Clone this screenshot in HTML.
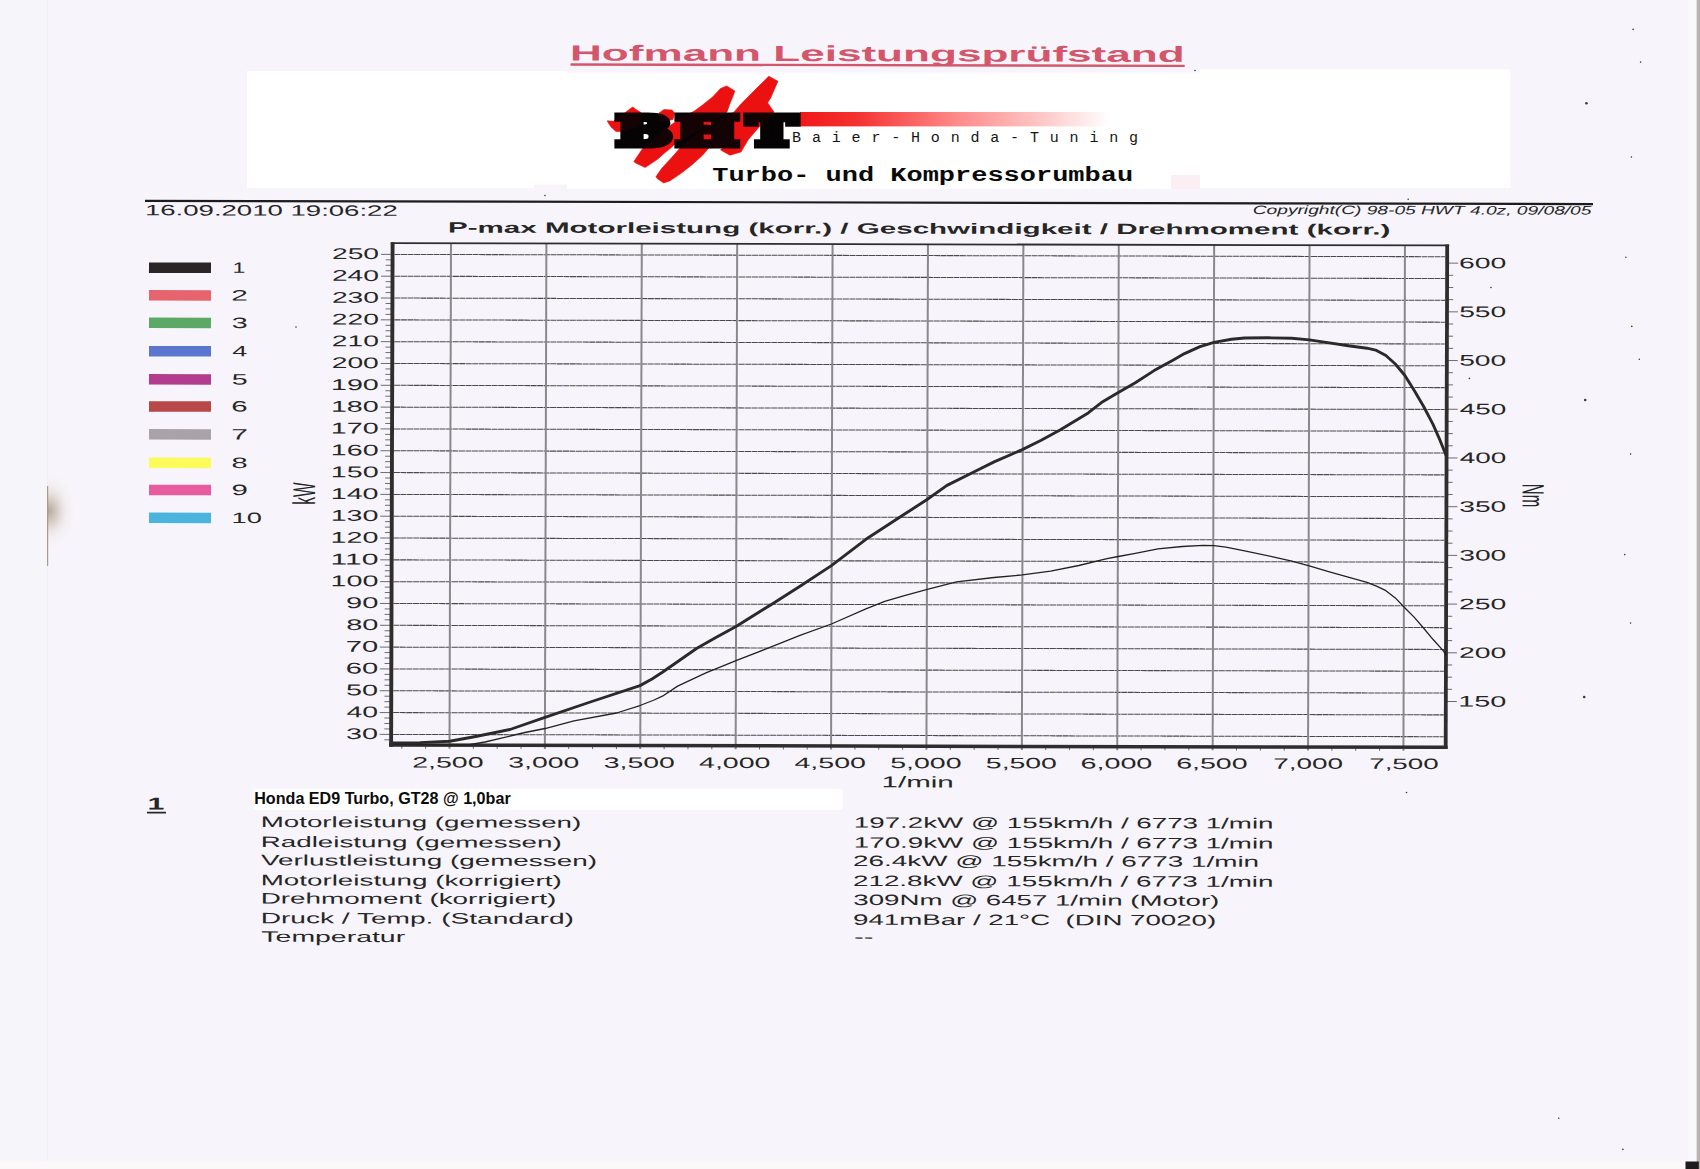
<!DOCTYPE html>
<html lang="de">
<head>
<meta charset="utf-8">
<title>Hofmann Leistungsprüfstand</title>
<style>
html,body{margin:0;padding:0;background:#f7f5fb;}
body{width:1700px;height:1169px;overflow:hidden;}
svg text{white-space:pre;}
</style>
</head>
<body>
<svg width="1700" height="1169" viewBox="0 0 1700 1169" style="display:block">
<rect x="0" y="0" width="1700" height="1169" fill="#f7f5fb"/>
<defs><radialGradient id="sm" cx="0.5" cy="0.5" r="0.5"><stop offset="0" stop-color="#7a5a3c" stop-opacity="0.5"/><stop offset="0.3" stop-color="#a08464" stop-opacity="0.36"/><stop offset="0.65" stop-color="#d0bca8" stop-opacity="0.14"/><stop offset="1" stop-color="#e8dcd0" stop-opacity="0"/></radialGradient></defs>
<ellipse cx="49" cy="511" rx="27" ry="38" fill="url(#sm)"/>
<rect x="0" y="0" width="47.6" height="1169" fill="#f6f5fa"/>
<rect x="47.1" y="0" width="0.9" height="1169" fill="#efeef4"/>
<rect x="47" y="486" width="1.2" height="80" fill="#8c7860" opacity="0.7"/>
<rect x="1688" y="0" width="9" height="1169" fill="#f9f8fc"/>
<rect x="0" y="1160.5" width="1700" height="8.5" fill="#faf8f8"/>
<rect x="1697" y="0" width="3" height="1169" fill="#b6b2b2"/>
<rect x="1696.2" y="0" width="0.8" height="1169" fill="#dedadc"/>
<rect x="1685.5" y="1161.5" width="13.3" height="7.5" fill="#1c1c1c"/>
<g fill="#3a3a3a"><circle cx="1633.1" cy="29.4" r="0.8"/><circle cx="1640.6" cy="62.1" r="0.8"/><circle cx="1586.4" cy="103.2" r="1.3"/><circle cx="1631.4" cy="157" r="0.8"/><circle cx="1408.2" cy="199.3" r="0.8"/><circle cx="1625.9" cy="257.2" r="0.8"/><circle cx="1491" cy="287.5" r="0.8"/><circle cx="1631.8" cy="326.4" r="0.8"/><circle cx="1639.3" cy="359.3" r="0.8"/><circle cx="1469.4" cy="378.4" r="0.8"/><circle cx="1585.2" cy="400" r="1.3"/><circle cx="1630.6" cy="454.1" r="0.8"/><circle cx="1624.7" cy="554.6" r="0.8"/><circle cx="1630.6" cy="623" r="0.8"/><circle cx="1584.2" cy="697" r="1.3"/><circle cx="1622.9" cy="1149.4" r="0.8"/><circle cx="1558.8" cy="1118.2" r="0.8"/><circle cx="1406.5" cy="792.5" r="0.8"/><circle cx="1195" cy="70.5" r="0.8"/><circle cx="1197" cy="180.5" r="0.8"/><circle cx="296" cy="327" r="0.8"/><circle cx="545" cy="195.5" r="0.8"/></g>
<rect x="247" y="71" width="320" height="117" fill="#ffffff"/>
<rect x="567" y="73.5" width="633" height="115.5" fill="#ffffff"/>
<rect x="567" y="72.3" width="633" height="1.2" fill="#fbfafd"/>
<rect x="1200" y="69.5" width="310.3" height="118.5" fill="#ffffff"/>
<rect x="1171" y="175" width="29" height="14" fill="#fbeff3"/>
<rect x="534" y="184.5" width="33" height="3.5" fill="#f6f4f8"/>
<rect x="253.5" y="789" width="589" height="21" fill="#ffffff"/>
<g transform="matrix(1 0.00220 -0.00300 1 0.7290 -0.8646)">
<text transform="translate(569.48 60.1) scale(2.0229 1)" font-family='"Liberation Sans", sans-serif' font-size="21.8" font-weight="bold" fill="#d4566a">Hofmann Leistungsprüfstand</text>
<rect x="570.06" y="62.91" width="614.1" height="2.4" fill="#d4566a"/>
<rect x="144.87" y="200.35" width="1448" height="2.2" fill="#1c1c1c"/>
<text transform="translate(144.85 215.84) scale(1.8414 1)" font-family='"Liberation Sans", sans-serif' font-size="14.97" fill="#262626">16.09.2010 19:06:22</text>
<text transform="translate(1252.66 212.01) scale(1.5709 1)" font-family='"Liberation Sans", sans-serif' font-size="12.21" font-style="italic" fill="#262626">Copyright(C) 98-05 HWT 4.0z, 09/08/05</text>
<text transform="translate(447.97 232.47) scale(1.9931 1)" font-family='"Liberation Sans", sans-serif' font-size="14.83" font-weight="bold" fill="#262626">P-max Motorleistung (korr.) / Geschwindigkeit / Drehmoment (korr.)</text>
<rect x="149.06" y="262.94" width="62" height="10.5" fill="#2a2627"/>
<text transform="translate(232.56 273.15) scale(1.5443 1)" font-family='"Liberation Sans", sans-serif' font-size="14.97" fill="#262626">1</text>
<rect x="149.14" y="290.54" width="62" height="10.5" fill="#e6646e"/>
<text transform="translate(231.48 300.75) scale(1.9964 1)" font-family='"Liberation Sans", sans-serif' font-size="14.97" fill="#262626">2</text>
<rect x="149.22" y="318.14" width="62" height="10.5" fill="#5ca866"/>
<text transform="translate(231.98 328.35) scale(1.9124 1)" font-family='"Liberation Sans", sans-serif' font-size="14.97" fill="#262626">3</text>
<rect x="149.31" y="346.44" width="62" height="10.5" fill="#5c76d0"/>
<text transform="translate(232.53 356.65) scale(1.7988 1)" font-family='"Liberation Sans", sans-serif' font-size="14.97" fill="#262626">4</text>
<rect x="149.39" y="374.64" width="62" height="10.5" fill="#b23c8e"/>
<text transform="translate(232.08 384.85) scale(1.9124 1)" font-family='"Liberation Sans", sans-serif' font-size="14.97" fill="#262626">5</text>
<rect x="149.47" y="401.74" width="62" height="10.5" fill="#b84848"/>
<text transform="translate(231.84 411.95) scale(1.9641 1)" font-family='"Liberation Sans", sans-serif' font-size="14.97" fill="#262626">6</text>
<rect x="149.56" y="429.54" width="62" height="10.5" fill="#a9a2a6"/>
<text transform="translate(231.89 439.75) scale(1.9964 1)" font-family='"Liberation Sans", sans-serif' font-size="14.97" fill="#262626">7</text>
<rect x="149.64" y="458.14" width="62" height="10.5" fill="#fbfb5c"/>
<text transform="translate(232.25 468.35) scale(1.9327 1)" font-family='"Liberation Sans", sans-serif' font-size="14.97" fill="#262626">8</text>
<rect x="149.73" y="485.24" width="62" height="10.5" fill="#e75c9e"/>
<text transform="translate(232.16 495.45) scale(1.9641 1)" font-family='"Liberation Sans", sans-serif' font-size="14.97" fill="#262626">9</text>
<rect x="149.81" y="513.04" width="62" height="10.5" fill="#4ab4dc"/>
<text transform="translate(232.39 523.25) scale(1.8213 1)" font-family='"Liberation Sans", sans-serif' font-size="14.97" fill="#262626">10</text>
<g stroke="#4a4a4a" stroke-width="1.05" stroke-dasharray="6 0.5" fill="none"><line x1="394.6" y1="734.4" x2="1445.2" y2="734.4"/><line x1="394.6" y1="712.58" x2="1445.2" y2="712.58"/><line x1="394.6" y1="690.76" x2="1445.2" y2="690.76"/><line x1="394.6" y1="668.94" x2="1445.2" y2="668.94"/><line x1="394.6" y1="647.12" x2="1445.2" y2="647.12"/><line x1="394.6" y1="625.31" x2="1445.2" y2="625.31"/><line x1="394.6" y1="603.49" x2="1445.2" y2="603.49"/><line x1="394.6" y1="581.67" x2="1445.2" y2="581.67"/><line x1="394.6" y1="559.85" x2="1445.2" y2="559.85"/><line x1="394.6" y1="538.03" x2="1445.2" y2="538.03"/><line x1="394.6" y1="516.22" x2="1445.2" y2="516.22"/><line x1="394.6" y1="494.4" x2="1445.2" y2="494.4"/><line x1="394.6" y1="472.58" x2="1445.2" y2="472.58"/><line x1="394.6" y1="450.76" x2="1445.2" y2="450.76"/><line x1="394.6" y1="428.94" x2="1445.2" y2="428.94"/><line x1="394.6" y1="407.13" x2="1445.2" y2="407.13"/><line x1="394.6" y1="385.31" x2="1445.2" y2="385.31"/><line x1="394.6" y1="363.49" x2="1445.2" y2="363.49"/><line x1="394.6" y1="341.67" x2="1445.2" y2="341.67"/><line x1="394.6" y1="319.85" x2="1445.2" y2="319.85"/><line x1="394.6" y1="298.04" x2="1445.2" y2="298.04"/><line x1="394.6" y1="276.22" x2="1445.2" y2="276.22"/><line x1="394.6" y1="254.4" x2="1445.2" y2="254.4"/></g>
<g stroke="#8a888c" stroke-width="2" fill="none"><line x1="451" y1="243.15" x2="451" y2="748.55"/><line x1="546.39" y1="243.15" x2="546.39" y2="748.55"/><line x1="641.79" y1="243.15" x2="641.79" y2="748.55"/><line x1="737.18" y1="243.15" x2="737.18" y2="748.55"/><line x1="832.58" y1="243.15" x2="832.58" y2="748.55"/><line x1="927.97" y1="243.15" x2="927.97" y2="748.55"/><line x1="1023.37" y1="243.15" x2="1023.37" y2="748.55"/><line x1="1118.76" y1="243.15" x2="1118.76" y2="748.55"/><line x1="1214.16" y1="243.15" x2="1214.16" y2="748.55"/><line x1="1309.55" y1="243.15" x2="1309.55" y2="748.55"/><line x1="1404.95" y1="243.15" x2="1404.95" y2="748.55"/></g>
<g stroke="#5c5c5c" stroke-width="0.9" fill="none"><line x1="385.8" y1="739.85" x2="392.6" y2="739.85"/><line x1="381.1" y1="734.4" x2="392.6" y2="734.4"/><line x1="385.8" y1="728.94" x2="392.6" y2="728.94"/><line x1="385.8" y1="723.49" x2="392.6" y2="723.49"/><line x1="385.8" y1="718.03" x2="392.6" y2="718.03"/><line x1="381.1" y1="712.58" x2="392.6" y2="712.58"/><line x1="385.8" y1="707.12" x2="392.6" y2="707.12"/><line x1="385.8" y1="701.67" x2="392.6" y2="701.67"/><line x1="385.8" y1="696.21" x2="392.6" y2="696.21"/><line x1="381.1" y1="690.76" x2="392.6" y2="690.76"/><line x1="385.8" y1="685.31" x2="392.6" y2="685.31"/><line x1="385.8" y1="679.85" x2="392.6" y2="679.85"/><line x1="385.8" y1="674.4" x2="392.6" y2="674.4"/><line x1="381.1" y1="668.94" x2="392.6" y2="668.94"/><line x1="385.8" y1="663.49" x2="392.6" y2="663.49"/><line x1="385.8" y1="658.03" x2="392.6" y2="658.03"/><line x1="385.8" y1="652.58" x2="392.6" y2="652.58"/><line x1="381.1" y1="647.12" x2="392.6" y2="647.12"/><line x1="385.8" y1="641.67" x2="392.6" y2="641.67"/><line x1="385.8" y1="636.22" x2="392.6" y2="636.22"/><line x1="385.8" y1="630.76" x2="392.6" y2="630.76"/><line x1="381.1" y1="625.31" x2="392.6" y2="625.31"/><line x1="385.8" y1="619.85" x2="392.6" y2="619.85"/><line x1="385.8" y1="614.4" x2="392.6" y2="614.4"/><line x1="385.8" y1="608.94" x2="392.6" y2="608.94"/><line x1="381.1" y1="603.49" x2="392.6" y2="603.49"/><line x1="385.8" y1="598.03" x2="392.6" y2="598.03"/><line x1="385.8" y1="592.58" x2="392.6" y2="592.58"/><line x1="385.8" y1="587.12" x2="392.6" y2="587.12"/><line x1="381.1" y1="581.67" x2="392.6" y2="581.67"/><line x1="385.8" y1="576.22" x2="392.6" y2="576.22"/><line x1="385.8" y1="570.76" x2="392.6" y2="570.76"/><line x1="385.8" y1="565.31" x2="392.6" y2="565.31"/><line x1="381.1" y1="559.85" x2="392.6" y2="559.85"/><line x1="385.8" y1="554.4" x2="392.6" y2="554.4"/><line x1="385.8" y1="548.94" x2="392.6" y2="548.94"/><line x1="385.8" y1="543.49" x2="392.6" y2="543.49"/><line x1="381.1" y1="538.03" x2="392.6" y2="538.03"/><line x1="385.8" y1="532.58" x2="392.6" y2="532.58"/><line x1="385.8" y1="527.12" x2="392.6" y2="527.12"/><line x1="385.8" y1="521.67" x2="392.6" y2="521.67"/><line x1="381.1" y1="516.22" x2="392.6" y2="516.22"/><line x1="385.8" y1="510.76" x2="392.6" y2="510.76"/><line x1="385.8" y1="505.31" x2="392.6" y2="505.31"/><line x1="385.8" y1="499.85" x2="392.6" y2="499.85"/><line x1="381.1" y1="494.4" x2="392.6" y2="494.4"/><line x1="385.8" y1="488.94" x2="392.6" y2="488.94"/><line x1="385.8" y1="483.49" x2="392.6" y2="483.49"/><line x1="385.8" y1="478.03" x2="392.6" y2="478.03"/><line x1="381.1" y1="472.58" x2="392.6" y2="472.58"/><line x1="385.8" y1="467.13" x2="392.6" y2="467.13"/><line x1="385.8" y1="461.67" x2="392.6" y2="461.67"/><line x1="385.8" y1="456.22" x2="392.6" y2="456.22"/><line x1="381.1" y1="450.76" x2="392.6" y2="450.76"/><line x1="385.8" y1="445.31" x2="392.6" y2="445.31"/><line x1="385.8" y1="439.85" x2="392.6" y2="439.85"/><line x1="385.8" y1="434.4" x2="392.6" y2="434.4"/><line x1="381.1" y1="428.94" x2="392.6" y2="428.94"/><line x1="385.8" y1="423.49" x2="392.6" y2="423.49"/><line x1="385.8" y1="418.03" x2="392.6" y2="418.03"/><line x1="385.8" y1="412.58" x2="392.6" y2="412.58"/><line x1="381.1" y1="407.13" x2="392.6" y2="407.13"/><line x1="385.8" y1="401.67" x2="392.6" y2="401.67"/><line x1="385.8" y1="396.22" x2="392.6" y2="396.22"/><line x1="385.8" y1="390.76" x2="392.6" y2="390.76"/><line x1="381.1" y1="385.31" x2="392.6" y2="385.31"/><line x1="385.8" y1="379.85" x2="392.6" y2="379.85"/><line x1="385.8" y1="374.4" x2="392.6" y2="374.4"/><line x1="385.8" y1="368.94" x2="392.6" y2="368.94"/><line x1="381.1" y1="363.49" x2="392.6" y2="363.49"/><line x1="385.8" y1="358.04" x2="392.6" y2="358.04"/><line x1="385.8" y1="352.58" x2="392.6" y2="352.58"/><line x1="385.8" y1="347.13" x2="392.6" y2="347.13"/><line x1="381.1" y1="341.67" x2="392.6" y2="341.67"/><line x1="385.8" y1="336.22" x2="392.6" y2="336.22"/><line x1="385.8" y1="330.76" x2="392.6" y2="330.76"/><line x1="385.8" y1="325.31" x2="392.6" y2="325.31"/><line x1="381.1" y1="319.85" x2="392.6" y2="319.85"/><line x1="385.8" y1="314.4" x2="392.6" y2="314.4"/><line x1="385.8" y1="308.94" x2="392.6" y2="308.94"/><line x1="385.8" y1="303.49" x2="392.6" y2="303.49"/><line x1="381.1" y1="298.04" x2="392.6" y2="298.04"/><line x1="385.8" y1="292.58" x2="392.6" y2="292.58"/><line x1="385.8" y1="287.13" x2="392.6" y2="287.13"/><line x1="385.8" y1="281.67" x2="392.6" y2="281.67"/><line x1="381.1" y1="276.22" x2="392.6" y2="276.22"/><line x1="385.8" y1="270.76" x2="392.6" y2="270.76"/><line x1="385.8" y1="265.31" x2="392.6" y2="265.31"/><line x1="385.8" y1="259.85" x2="392.6" y2="259.85"/><line x1="381.1" y1="254.4" x2="392.6" y2="254.4"/><line x1="1447.2" y1="699.19" x2="1458.2" y2="699.19"/><line x1="1447.2" y1="687.01" x2="1453.4" y2="687.01"/><line x1="1447.2" y1="674.84" x2="1453.4" y2="674.84"/><line x1="1447.2" y1="662.66" x2="1453.4" y2="662.66"/><line x1="1447.2" y1="650.48" x2="1458.2" y2="650.48"/><line x1="1447.2" y1="638.3" x2="1453.4" y2="638.3"/><line x1="1447.2" y1="626.12" x2="1453.4" y2="626.12"/><line x1="1447.2" y1="613.95" x2="1453.4" y2="613.95"/><line x1="1447.2" y1="601.77" x2="1458.2" y2="601.77"/><line x1="1447.2" y1="589.59" x2="1453.4" y2="589.59"/><line x1="1447.2" y1="577.41" x2="1453.4" y2="577.41"/><line x1="1447.2" y1="565.24" x2="1453.4" y2="565.24"/><line x1="1447.2" y1="553.06" x2="1458.2" y2="553.06"/><line x1="1447.2" y1="540.88" x2="1453.4" y2="540.88"/><line x1="1447.2" y1="528.7" x2="1453.4" y2="528.7"/><line x1="1447.2" y1="516.53" x2="1453.4" y2="516.53"/><line x1="1447.2" y1="504.35" x2="1458.2" y2="504.35"/><line x1="1447.2" y1="492.17" x2="1453.4" y2="492.17"/><line x1="1447.2" y1="480" x2="1453.4" y2="480"/><line x1="1447.2" y1="467.82" x2="1453.4" y2="467.82"/><line x1="1447.2" y1="455.64" x2="1458.2" y2="455.64"/><line x1="1447.2" y1="443.46" x2="1453.4" y2="443.46"/><line x1="1447.2" y1="431.28" x2="1453.4" y2="431.28"/><line x1="1447.2" y1="419.11" x2="1453.4" y2="419.11"/><line x1="1447.2" y1="406.93" x2="1458.2" y2="406.93"/><line x1="1447.2" y1="394.75" x2="1453.4" y2="394.75"/><line x1="1447.2" y1="382.57" x2="1453.4" y2="382.57"/><line x1="1447.2" y1="370.4" x2="1453.4" y2="370.4"/><line x1="1447.2" y1="358.22" x2="1458.2" y2="358.22"/><line x1="1447.2" y1="346.04" x2="1453.4" y2="346.04"/><line x1="1447.2" y1="333.87" x2="1453.4" y2="333.87"/><line x1="1447.2" y1="321.69" x2="1453.4" y2="321.69"/><line x1="1447.2" y1="309.51" x2="1458.2" y2="309.51"/><line x1="1447.2" y1="297.33" x2="1453.4" y2="297.33"/><line x1="1447.2" y1="285.16" x2="1453.4" y2="285.16"/><line x1="1447.2" y1="272.98" x2="1453.4" y2="272.98"/><line x1="1447.2" y1="260.8" x2="1458.2" y2="260.8"/><line x1="403.3" y1="745.05" x2="403.3" y2="748.65"/><line x1="427.15" y1="745.05" x2="427.15" y2="748.65"/><line x1="474.85" y1="745.05" x2="474.85" y2="748.65"/><line x1="498.7" y1="745.05" x2="498.7" y2="748.65"/><line x1="522.55" y1="745.05" x2="522.55" y2="748.65"/><line x1="570.24" y1="745.05" x2="570.24" y2="748.65"/><line x1="594.09" y1="745.05" x2="594.09" y2="748.65"/><line x1="617.94" y1="745.05" x2="617.94" y2="748.65"/><line x1="665.64" y1="745.05" x2="665.64" y2="748.65"/><line x1="689.49" y1="745.05" x2="689.49" y2="748.65"/><line x1="713.34" y1="745.05" x2="713.34" y2="748.65"/><line x1="761.03" y1="745.05" x2="761.03" y2="748.65"/><line x1="784.88" y1="745.05" x2="784.88" y2="748.65"/><line x1="808.73" y1="745.05" x2="808.73" y2="748.65"/><line x1="856.43" y1="745.05" x2="856.43" y2="748.65"/><line x1="880.28" y1="745.05" x2="880.28" y2="748.65"/><line x1="904.13" y1="745.05" x2="904.13" y2="748.65"/><line x1="951.82" y1="745.05" x2="951.82" y2="748.65"/><line x1="975.67" y1="745.05" x2="975.67" y2="748.65"/><line x1="999.52" y1="745.05" x2="999.52" y2="748.65"/><line x1="1047.22" y1="745.05" x2="1047.22" y2="748.65"/><line x1="1071.07" y1="745.05" x2="1071.07" y2="748.65"/><line x1="1094.92" y1="745.05" x2="1094.92" y2="748.65"/><line x1="1142.61" y1="745.05" x2="1142.61" y2="748.65"/><line x1="1166.46" y1="745.05" x2="1166.46" y2="748.65"/><line x1="1190.31" y1="745.05" x2="1190.31" y2="748.65"/><line x1="1238.01" y1="745.05" x2="1238.01" y2="748.65"/><line x1="1261.86" y1="745.05" x2="1261.86" y2="748.65"/><line x1="1285.71" y1="745.05" x2="1285.71" y2="748.65"/><line x1="1333.4" y1="745.05" x2="1333.4" y2="748.65"/><line x1="1357.25" y1="745.05" x2="1357.25" y2="748.65"/><line x1="1381.1" y1="745.05" x2="1381.1" y2="748.65"/></g>
<line x1="390.9" y1="243.15" x2="1449.1" y2="243.15" stroke="#2e2e2e" stroke-width="1.8"/>
<line x1="392.6" y1="242.25" x2="392.6" y2="746.75" stroke="#2e2e2e" stroke-width="3.9"/>
<line x1="1447.2" y1="242.25" x2="1447.2" y2="746.75" stroke="#2e2e2e" stroke-width="3.8"/>
<line x1="390.7" y1="745.05" x2="1449.1" y2="745.05" stroke="#2e2e2e" stroke-width="3.5"/>
<text transform="translate(347.54 739.1) scale(1.8532 1)" font-family='"Liberation Sans", sans-serif' font-size="15.54" fill="#262626">30</text>
<text transform="translate(347.96 717.28) scale(1.8267 1)" font-family='"Liberation Sans", sans-serif' font-size="15.54" fill="#262626">40</text>
<text transform="translate(347.43 695.46) scale(1.8577 1)" font-family='"Liberation Sans", sans-serif' font-size="15.54" fill="#262626">50</text>
<text transform="translate(347.11 673.64) scale(1.8758 1)" font-family='"Liberation Sans", sans-serif' font-size="15.54" fill="#262626">60</text>
<text transform="translate(347.09 651.82) scale(1.8758 1)" font-family='"Liberation Sans", sans-serif' font-size="15.54" fill="#262626">70</text>
<text transform="translate(347.3 630.01) scale(1.8622 1)" font-family='"Liberation Sans", sans-serif' font-size="15.54" fill="#262626">80</text>
<text transform="translate(347.14 608.19) scale(1.8713 1)" font-family='"Liberation Sans", sans-serif' font-size="15.54" fill="#262626">90</text>
<text transform="translate(331.55 586.4) scale(1.8461 1)" font-family='"Liberation Sans", sans-serif' font-size="15.54" fill="#262626">100</text>
<text transform="translate(331.42 564.58) scale(1.9396 1)" font-family='"Liberation Sans", sans-serif' font-size="15.54" fill="#262626">110</text>
<text transform="translate(331.51 542.77) scale(1.8461 1)" font-family='"Liberation Sans", sans-serif' font-size="15.54" fill="#262626">120</text>
<text transform="translate(331.5 520.95) scale(1.8461 1)" font-family='"Liberation Sans", sans-serif' font-size="15.54" fill="#262626">130</text>
<text transform="translate(331.48 499.13) scale(1.8461 1)" font-family='"Liberation Sans", sans-serif' font-size="15.54" fill="#262626">140</text>
<text transform="translate(331.46 477.31) scale(1.8461 1)" font-family='"Liberation Sans", sans-serif' font-size="15.54" fill="#262626">150</text>
<text transform="translate(331.44 455.49) scale(1.8461 1)" font-family='"Liberation Sans", sans-serif' font-size="15.54" fill="#262626">160</text>
<text transform="translate(331.43 433.68) scale(1.8461 1)" font-family='"Liberation Sans", sans-serif' font-size="15.54" fill="#262626">170</text>
<text transform="translate(331.41 411.86) scale(1.8461 1)" font-family='"Liberation Sans", sans-serif' font-size="15.54" fill="#262626">180</text>
<text transform="translate(331.39 390.04) scale(1.8461 1)" font-family='"Liberation Sans", sans-serif' font-size="15.54" fill="#262626">190</text>
<text transform="translate(332.11 368.22) scale(1.8168 1)" font-family='"Liberation Sans", sans-serif' font-size="15.54" fill="#262626">200</text>
<text transform="translate(332.1 346.4) scale(1.8168 1)" font-family='"Liberation Sans", sans-serif' font-size="15.54" fill="#262626">210</text>
<text transform="translate(332.08 324.59) scale(1.8168 1)" font-family='"Liberation Sans", sans-serif' font-size="15.54" fill="#262626">220</text>
<text transform="translate(332.06 302.77) scale(1.8168 1)" font-family='"Liberation Sans", sans-serif' font-size="15.54" fill="#262626">230</text>
<text transform="translate(332.04 280.95) scale(1.8168 1)" font-family='"Liberation Sans", sans-serif' font-size="15.54" fill="#262626">240</text>
<text transform="translate(332.03 259.13) scale(1.8168 1)" font-family='"Liberation Sans", sans-serif' font-size="15.54" fill="#262626">250</text>
<text transform="translate(1459.53 704.23) scale(1.8929 1)" font-family='"Liberation Sans", sans-serif' font-size="15.25" fill="#262626">150</text>
<text transform="translate(1460.12 655.52) scale(1.8629 1)" font-family='"Liberation Sans", sans-serif' font-size="15.25" fill="#262626">200</text>
<text transform="translate(1459.98 606.81) scale(1.8629 1)" font-family='"Liberation Sans", sans-serif' font-size="15.25" fill="#262626">250</text>
<text transform="translate(1460.2 558.1) scale(1.8483 1)" font-family='"Liberation Sans", sans-serif' font-size="15.25" fill="#262626">300</text>
<text transform="translate(1460.05 509.39) scale(1.8483 1)" font-family='"Liberation Sans", sans-serif' font-size="15.25" fill="#262626">350</text>
<text transform="translate(1460.33 460.68) scale(1.8311 1)" font-family='"Liberation Sans", sans-serif' font-size="15.25" fill="#262626">400</text>
<text transform="translate(1460.19 411.97) scale(1.8311 1)" font-family='"Liberation Sans", sans-serif' font-size="15.25" fill="#262626">450</text>
<text transform="translate(1459.54 363.26) scale(1.8512 1)" font-family='"Liberation Sans", sans-serif' font-size="15.25" fill="#262626">500</text>
<text transform="translate(1459.39 314.55) scale(1.8512 1)" font-family='"Liberation Sans", sans-serif' font-size="15.25" fill="#262626">550</text>
<text transform="translate(1458.95 265.84) scale(1.8629 1)" font-family='"Liberation Sans", sans-serif' font-size="15.25" fill="#262626">600</text>
<text transform="translate(413.75 767.35) scale(1.9056 1)" font-family='"Liberation Sans", sans-serif' font-size="14.97" fill="#262626">2,500</text>
<text transform="translate(509.91 767.29) scale(1.8930 1)" font-family='"Liberation Sans", sans-serif' font-size="14.97" fill="#262626">3,000</text>
<text transform="translate(605.31 767.22) scale(1.8958 1)" font-family='"Liberation Sans", sans-serif' font-size="14.97" fill="#262626">3,500</text>
<text transform="translate(700.63 767.15) scale(1.9060 1)" font-family='"Liberation Sans", sans-serif' font-size="14.97" fill="#262626">4,000</text>
<text transform="translate(796.03 767.09) scale(1.9087 1)" font-family='"Liberation Sans", sans-serif' font-size="14.97" fill="#262626">4,500</text>
<text transform="translate(891.73 767.02) scale(1.9060 1)" font-family='"Liberation Sans", sans-serif' font-size="14.97" fill="#262626">5,000</text>
<text transform="translate(987.44 766.95) scale(1.8977 1)" font-family='"Liberation Sans", sans-serif' font-size="14.97" fill="#262626">5,500</text>
<text transform="translate(1082.04 766.89) scale(1.9194 1)" font-family='"Liberation Sans", sans-serif' font-size="14.97" fill="#262626">6,000</text>
<text transform="translate(1177.75 766.82) scale(1.9056 1)" font-family='"Liberation Sans", sans-serif' font-size="14.97" fill="#262626">6,500</text>
<text transform="translate(1274.78 766.75) scale(1.8641 1)" font-family='"Liberation Sans", sans-serif' font-size="14.97" fill="#262626">7,000</text>
<text transform="translate(1370.79 766.68) scale(1.8530 1)" font-family='"Liberation Sans", sans-serif' font-size="14.97" fill="#262626">7,500</text>
<text transform="translate(883.12 786.22) scale(1.9004 1)" font-family='"Liberation Sans", sans-serif' font-size="15.55" fill="#262626">1/min</text>
<text transform="translate(304.95 493.8) rotate(-90) scale(1 2.05)" font-family='"Liberation Sans", sans-serif' font-size="15.4" fill="#262626" text-anchor="middle" y="5.3">kW</text>
<text transform="translate(1534.06 492.99) rotate(90) scale(1 2.05)" font-family='"Liberation Sans", sans-serif' font-size="15" fill="#262626" text-anchor="middle" y="5.3">Nm</text>
<polyline points="394.5,744.2 441.51,744.7 469.51,744.84 486.5,741.8 504.98,737.36 526.47,732.21 546.46,728.17 575.43,720.5 617.91,712.51 641.39,704.96 655.47,699.43 663.76,695.61 678.93,685.47 707.19,672.21 737.25,659.95 773.01,645.77 801.18,634.4 832.54,623.04 867,607.86 885.78,600.32 904.56,594.68 928.34,588.22 957.52,580.66 995.1,576.18 1023.3,573.52 1051.58,569.65 1079.77,563.99 1107.95,557.13 1119.24,554.9 1136.23,551.67 1158.82,547.22 1183.21,544.76 1204.21,543.62 1214.91,543.89 1226.81,545.27 1245.62,548.93 1273.84,554.86 1292.75,559.22 1310.27,563.88 1330.39,569.84 1349.2,575.1 1368.02,580.26 1377.53,584.04 1386.94,588.52 1396.36,595.69 1405.79,605.47 1415.22,614.85 1424.65,625.73 1434.09,637.01 1443.52,647.29 1447.54,652.68" fill="none" stroke="#222" stroke-width="1.3" stroke-linejoin="round" stroke-linecap="butt"/>
<polyline points="394.5,743 421.5,742.54 451.19,741.08 478.48,736.02 511.46,729.24 546.42,716.97 593.18,701.06 641.33,685.06 653.31,678.43 663.69,671.71 681.25,659.37 697.72,647.83 716.18,637.29 737.15,625.65 772.88,603.37 801.03,585.4 832.37,564.64 866.79,538.26 904.32,513.68 927.47,498.63 947.73,484.18 975.98,470.02 994.76,460.58 1022.92,448.22 1041.79,438.77 1060.56,428.43 1088.71,411.37 1101.88,401.04 1118.75,391 1135.72,381.17 1154.48,368.93 1173.25,358.48 1184.83,351.86 1200.31,344.92 1214.3,340.59 1231.79,337.36 1244.99,336.13 1268.28,335.88 1292.09,336.22 1309.59,337.88 1329.7,340.84 1348.51,343.6 1367.32,346.06 1376.82,348.24 1386.24,353.32 1395.66,361.79 1405.1,373.07 1414.54,388.05 1423.99,404.03 1433.44,421.91 1440.99,438.9 1446.94,453.68" fill="none" stroke="#2a2a2a" stroke-width="2.9" stroke-linejoin="round" stroke-linecap="butt"/>
<text transform="translate(149.3 810.14) scale(1.7680 1)" font-family='"Liberation Sans", sans-serif' font-size="17.15" font-weight="bold" fill="#262626">1</text>
<rect x="148.71" y="812.34" width="19" height="1.6" fill="#262626"/>
<text transform="translate(262.46 827.29) scale(1.8350 1)" font-family='"Liberation Sans", sans-serif' font-size="15.12" fill="#262626">Motorleistung (gemessen)</text>
<text transform="translate(262.52 847.29) scale(1.8371 1)" font-family='"Liberation Sans", sans-serif' font-size="15.12" fill="#262626">Radleistung (gemessen)</text>
<text transform="translate(262.93 865.59) scale(1.8422 1)" font-family='"Liberation Sans", sans-serif' font-size="15.12" fill="#262626">Verlustleistung (gemessen)</text>
<text transform="translate(262.64 885.59) scale(1.8371 1)" font-family='"Liberation Sans", sans-serif' font-size="15.12" fill="#262626">Motorleistung (korrigiert)</text>
<text transform="translate(262.68 903.79) scale(1.8431 1)" font-family='"Liberation Sans", sans-serif' font-size="15.12" fill="#262626">Drehmoment (korrigiert)</text>
<text transform="translate(262.72 923.49) scale(1.8590 1)" font-family='"Liberation Sans", sans-serif' font-size="15.12" fill="#262626">Druck / Temp. (Standard)</text>
<text transform="translate(263.46 942.09) scale(1.8805 1)" font-family='"Liberation Sans", sans-serif' font-size="15.12" fill="#262626">Temperatur</text>
<text transform="translate(855.57 826.58) scale(1.8534 1)" font-family='"Liberation Sans", sans-serif' font-size="14.97" fill="#262626">197.2kW @ 155km/h / 6773 1/min</text>
<text transform="translate(855.63 846.58) scale(1.8534 1)" font-family='"Liberation Sans", sans-serif' font-size="14.97" fill="#262626">170.9kW @ 155km/h / 6773 1/min</text>
<text transform="translate(854.88 864.88) scale(1.8609 1)" font-family='"Liberation Sans", sans-serif' font-size="14.97" fill="#262626">26.4kW @ 155km/h / 6773 1/min</text>
<text transform="translate(854.94 884.88) scale(1.8570 1)" font-family='"Liberation Sans", sans-serif' font-size="14.97" fill="#262626">212.8kW @ 155km/h / 6773 1/min</text>
<text transform="translate(855.35 903.98) scale(1.8475 1)" font-family='"Liberation Sans", sans-serif' font-size="14.97" fill="#262626">309Nm @ 6457 1/min (Motor)</text>
<text transform="translate(855.13 923.68) scale(1.8483 1)" font-family='"Liberation Sans", sans-serif' font-size="14.97" fill="#262626">941mBar / 21°C  (DIN 70020)</text>
<text transform="translate(856.1 940.98) scale(1.9315 1)" font-family='"Liberation Sans", sans-serif' font-size="14.97" fill="#262626">--</text>
</g>
<text transform="translate(254.21 804.2) scale(0.9408 1)" font-family='"Liberation Sans", sans-serif' font-size="17.15" font-weight="bold" fill="#0c0c0c">Honda ED9 Turbo, GT28 @ 1,0bar</text>
<defs><linearGradient id="rg" x1="0" y1="0" x2="1" y2="0"><stop offset="0" stop-color="#f01818"/><stop offset="0.18" stop-color="#f53030"/><stop offset="0.5" stop-color="#f88"/><stop offset="0.8" stop-color="#fcc"/><stop offset="1" stop-color="#fff"/></linearGradient></defs>
<g fill="#ee1212" stroke="#ee1212" stroke-width="0.6" stroke-linejoin="round"><path d="M633.9 161.4 L643 148 L655 137 L668 127 L681 118 L694.4 111 L702.6 104.9 L712.9 96.7 L720.5 88.5 L726.7 85.9 L734.9 91 L732.8 96.7 L729.8 103.9 L727 112 L715 121 L700 130 L686 138 L675 144 L670.8 148 L665.7 152 L657.5 159.3 L645.2 167.5 L635.4 162.9 Z"/><path d="M655.9 176.8 L661.6 168.5 L671.9 157.3 L680.1 148 L692 137 L706 127 L720 119 L734 112 L741 103.9 L751.3 93.6 L761.6 83.3 L768.8 76.2 L778 81.3 L773.9 90.5 L770.8 97.7 L767.7 102.8 L771.9 109 L773.9 112 L760 122 L748 132 L736 141 L722 147 L708.8 148 L702.6 155.2 L692.4 164.4 L682.1 172.6 L669.8 180.9 L663.6 182.9 L657.5 178.8 Z"/><path d="M720.5 150 L730 155.2 L741 152 L748 140 L760 126 L774 112 L768 106 L755 116 L742 128 L730 140 Z"/><path d="M607.2 120.8 L613.3 121.3 L620.5 116.2 L629.8 109 L632.8 107 L636 109.5 L641 112.5 L641 126 L625 131.5 L616 131.6 L611 127 L609 124 Z"/><path d="M659 113 L664 109.5 L672 110 L674.5 113 L673 119.5 L660 122 Z"/></g>
<rect x="800" y="112" width="310" height="14.4" fill="url(#rg)"/>
<text transform="translate(0 144.6) scale(1.6112 1)" x="382.92 420.2 464.26" font-family='"DejaVu Serif", serif' font-size="39.78" font-weight="bold" fill="#060304" stroke="#060304" stroke-width="7" stroke-linejoin="miter" stroke-miterlimit="6">BHT</text>
<g fill="#d01010" opacity="0.07"><path d="M633.9 161.4 L643 148 L655 137 L668 127 L681 118 L694.4 111 L702.6 104.9 L712.9 96.7 L720.5 88.5 L726.7 85.9 L734.9 91 L732.8 96.7 L729.8 103.9 L727 112 L715 121 L700 130 L686 138 L675 144 L670.8 148 L665.7 152 L657.5 159.3 L645.2 167.5 L635.4 162.9 Z"/><path d="M655.9 176.8 L661.6 168.5 L671.9 157.3 L680.1 148 L692 137 L706 127 L720 119 L734 112 L741 103.9 L751.3 93.6 L761.6 83.3 L768.8 76.2 L778 81.3 L773.9 90.5 L770.8 97.7 L767.7 102.8 L771.9 109 L773.9 112 L760 122 L748 132 L736 141 L722 147 L708.8 148 L702.6 155.2 L692.4 164.4 L682.1 172.6 L669.8 180.9 L663.6 182.9 L657.5 178.8 Z"/><path d="M720.5 150 L730 155.2 L741 152 L748 140 L760 126 L774 112 L768 106 L755 116 L742 128 L730 140 Z"/><path d="M607.2 120.8 L613.3 121.3 L620.5 116.2 L629.8 109 L632.8 107 L636 109.5 L641 112.5 L641 126 L625 131.5 L616 131.6 L611 127 L609 124 Z"/><path d="M659 113 L664 109.5 L672 110 L674.5 113 L673 119.5 L660 122 Z"/></g>
<text x="792.1" y="142.4" font-family='"Liberation Mono", monospace' font-size="15.02" letter-spacing="10.81" fill="#141414">Baier-Honda-Tuning</text>
<text transform="translate(712.19 180.5) scale(1.3072 1)" font-family='"Liberation Mono", monospace' font-size="20.64" font-weight="bold" fill="#0a0a0a">Turbo- und Kompressorumbau</text>
</svg>
</body>
</html>
